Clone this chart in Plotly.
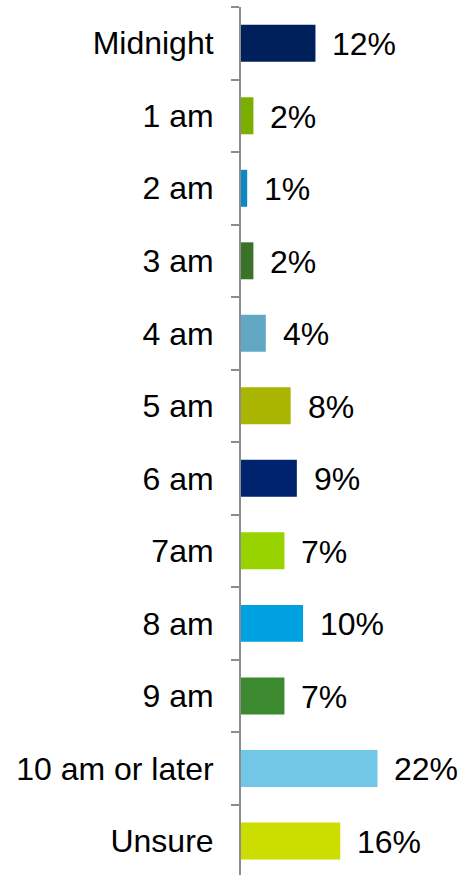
import plotly.graph_objects as go

# Survey answers: wake-up time, share of respondents
categories = ["Midnight", "1 am", "2 am", "3 am", "4 am", "5 am", "6 am",
              "7am", "8 am", "9 am", "10 am or later", "Unsure"]
values = [12, 2, 1, 2, 4, 8, 9, 7, 10, 7, 22, 16]
bar_colors = ["#00205B", "#7AAF00", "#0D88C5", "#3A7228", "#62A8C5", "#A9B500",
              "#00236E", "#98D300", "#00A1E0", "#3D8A30", "#72C6E6", "#CCDD00"]
value_labels = [f"{v}%" for v in values]

FONT = "Liberation Sans, Arial, sans-serif"

fig = go.Figure(
    go.Bar(
        x=values,
        y=categories,
        orientation="h",
        marker=dict(color=bar_colors, line=dict(width=0)),
        hoverinfo="skip",
    )
)

for cat, v, lab in zip(categories, values, value_labels):
    fig.add_annotation(
        x=v, y=cat, text=lab, showarrow=False,
        xanchor="left", yanchor="middle", xshift=15, yshift=-1,
        font=dict(family=FONT, size=32, color="#000000"),
    )

fig.update_layout(
    width=460, height=875,
    margin=dict(l=241, r=0, t=7, b=0),
    paper_bgcolor="white", plot_bgcolor="white",
    bargap=0.49,
    showlegend=False,
    xaxis=dict(range=[0, 35.3], visible=False, fixedrange=True),
    yaxis=dict(
        range=[11.47, -0.5],
        tickson="boundaries",
        ticks="outside", ticklen=8, tickwidth=2, tickcolor="#8C8C8C",
        showline=True, linewidth=2, linecolor="#8C8C8C",
        showgrid=False, zeroline=False,
        ticklabelstandoff=19,
        tickfont=dict(family=FONT, size=32, color="#000000"),
        fixedrange=True,
    ),
)

fig.write_html("out.html")
